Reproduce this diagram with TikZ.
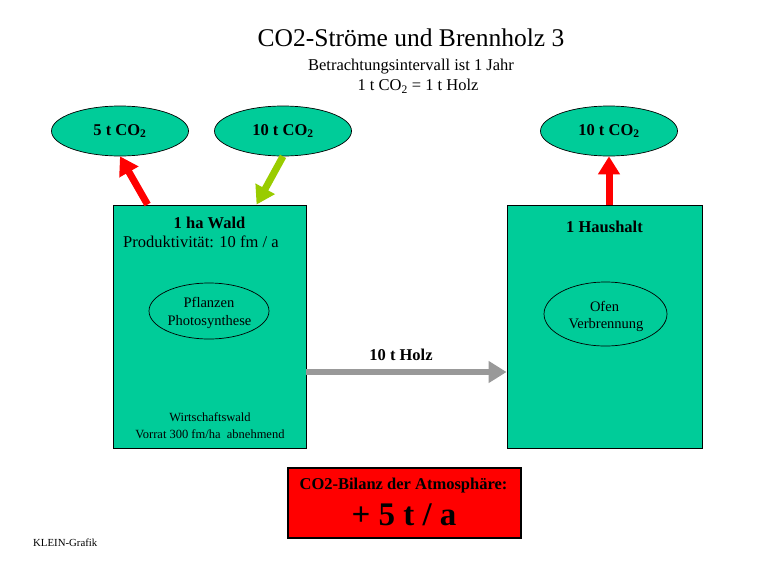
\documentclass[tikz,border=0pt]{standalone}
\usepackage{fontspec}
\setmainfont{Liberation Serif}
\usetikzlibrary{arrows.meta,shapes.geometric,calc}
\definecolor{boxgreen}{HTML}{00CC99}
\definecolor{arrgreen}{HTML}{99CC00}
\definecolor{arrgray}{HTML}{999999}
\definecolor{bilred}{HTML}{FF0000}
\begin{document}
\begin{tikzpicture}[x=1pt,y=-1pt,
  box/.style={draw=black, line width=0.9pt, fill=boxgreen, inner sep=0pt},
  topell/.style={ellipse, draw=black, line width=0.7pt, fill=boxgreen, inner sep=0pt,
    minimum width=137pt, minimum height=50pt, font=\fontsize{16.5}{19}\selectfont\bfseries},
  innerell/.style={ellipse, draw=black, line width=0.7pt, inner sep=0pt},
  fatarrow/.style={line width=7pt, -{Triangle[width=21pt,length=18pt]}},
  txt/.style={anchor=base, inner sep=0pt, font=\fontsize{16.5}{19}\selectfont},
  btxt/.style={anchor=base, inner sep=0pt, font=\fontsize{16.5}{19}\selectfont\bfseries},
  stxt/.style={anchor=base, inner sep=0pt, font=\fontsize{14.5}{17}\selectfont},
  ttxt/.style={anchor=base, inner sep=0pt, font=\fontsize{12.5}{15}\selectfont}]
\useasboundingbox (0,0) rectangle (768,576);

% heading
\node[anchor=base, inner sep=0pt, font=\fontsize{25.5}{30}\selectfont] (title) at (411,46.7) {CO2-Ströme und Brennholz 3};
\node[txt] (sub1) at (411,70) {Betrachtungsintervall ist 1 Jahr};
\node[txt] (sub2) at (418,90.7) {1 t CO\textsubscript{2} = 1 t Holz};

% boxes
\node[box, minimum width=193pt, minimum height=243pt] (wald) at (209.5,326.5) {};
\node[box, minimum width=195pt, minimum height=243pt] (haus) at (604.5,326.5) {};

% top ellipses
\node[topell] (e1) at (120,131) {5 t CO\textsubscript{2}};
\node[topell] (e2) at (283,131) {10 t CO\textsubscript{2}};
\node[topell] (e3) at (609,131) {10 t CO\textsubscript{2}};

% inner ellipses
\node[innerell, minimum width=120pt, minimum height=56pt] (pfl) at (209,311) {};
\node[innerell, minimum width=123pt, minimum height=64pt] (ofen) at (605.5,314) {};

% texts in left box
\node[btxt] (waldt) at (209.5,228) {1 ha Wald};
\node[txt, anchor=base west] (prod) at (123,247) {Produktivität: 10 fm / a};
\node[stxt] (pflt1) at (209,307) {Pflanzen};
\node[stxt] (pflt2) at (209.5,325) {Photosynthese};
\node[ttxt] (wirt) at (210,421) {Wirtschaftswald};
\node[ttxt] (vorr) at (210,438) {Vorrat 300 fm/ha\ \ abnehmend};

% texts in right box
\node[btxt] (haust) at (604.5,232) {1 Haushalt};
\node[stxt] (ofent1) at (604.5,311) {Ofen};
\node[stxt] (ofent2) at (606,328) {Verbrennung};

% arrows
\draw[fatarrow, draw=red, fill=red] ($(wald.north west)+(35,0)$) -- (e1.south);
\draw[fatarrow, draw=arrgreen, fill=arrgreen] (e2.south) -- ($(wald.north west)+(144,0)$);
\draw[fatarrow, draw=red, fill=red] (haus.north -| e3.south) -- (e3.south);
\draw[fatarrow, line width=6pt, draw=arrgray, fill=arrgray] ($(wald.east)+(0,45.5)$) -- ($(haus.west)+(0,45.5)$);
\node[btxt] (holz) at (401,360) {10 t Holz};

% balance box
\node[draw=black, line width=1.3pt, fill=bilred, minimum width=233pt, minimum height=70pt, inner sep=0pt] (bil) at (404.5,503) {};
\node[btxt] (bilt) at (403.5,489) {CO2-Bilanz der Atmosphäre:};
\node[anchor=base, inner sep=0pt, font=\fontsize{33}{38}\selectfont\bfseries] (bilv) at (404,525) {+ 5 t / a};

% credit
\node[anchor=base west, inner sep=0pt, font=\fontsize{10.8}{13}\selectfont] (credit) at (33,546) {KLEIN-Grafik};
\end{tikzpicture}
\end{document}
